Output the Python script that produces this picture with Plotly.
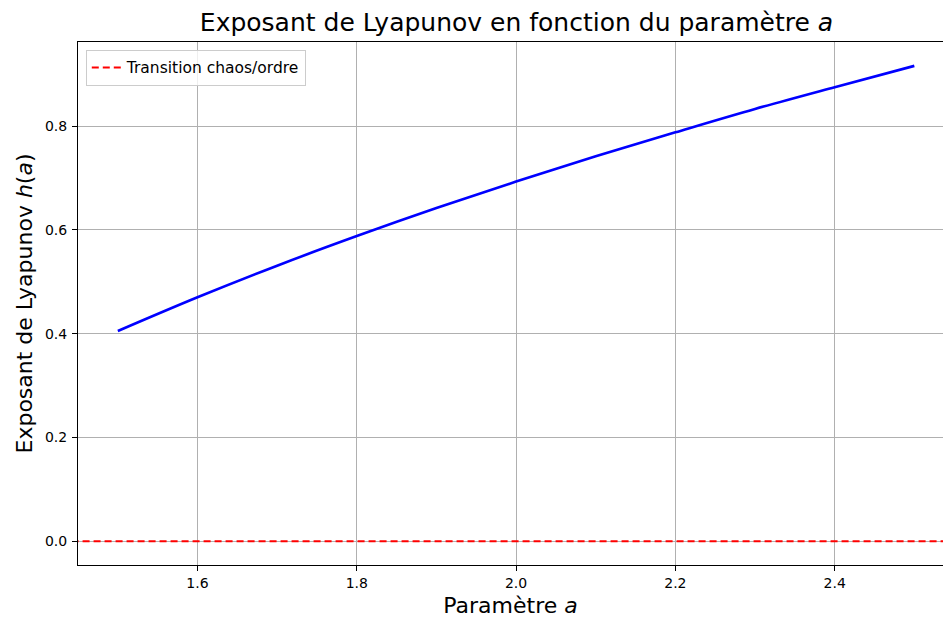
import plotly.graph_objects as go

# Data
a_values = [1.5, 1.6, 1.7, 1.8, 1.9, 2.0, 2.1, 2.2, 2.3, 2.4, 2.5]
h_values = [0.405, 0.470, 0.531, 0.588, 0.642, 0.693, 0.742, 0.788, 0.833, 0.875, 0.916]
transition_x = [1.0, 3.0]
transition_y = [0.0, 0.0]
x_ticks = [1.6, 1.8, 2.0, 2.2, 2.4]
y_ticks = [0.0, 0.2, 0.4, 0.6, 0.8]

FONT = "DejaVu Sans"

fig = go.Figure()
fig.add_trace(go.Scatter(
    x=a_values, y=h_values, mode="lines", line=dict(color="#0000ff", width=2.6, shape="spline"),
    showlegend=False, hoverinfo="skip"))
fig.add_trace(go.Scatter(
    x=transition_x, y=transition_y, mode="lines", name="Transition chaos/ordre",
    line=dict(color="#ff0000", width=2, dash="7px,4px")))

fig.update_layout(
    width=944, height=618,
    margin=dict(l=78, r=1, t=42, b=53),
    paper_bgcolor="white", plot_bgcolor="white",
    font=dict(family=FONT, color="#000000", size=14),
    title=dict(text="Exposant de Lyapunov en fonction du paramètre <i>a</i>",
               font=dict(family=FONT, size=25, color="#000000"),
               x=(78 + 955) / 2 / 944, xanchor="center", y=1 - 22 / 618, yanchor="middle",
               xref="container"),
    legend=dict(x=0.009, y=0.985, xanchor="left", yanchor="top",
                bgcolor="rgba(255,255,255,0.8)", bordercolor="#cccccc", borderwidth=1,
                font=dict(family=FONT, size=15.5, color="#000000"),
                itemwidth=30, tracegroupgap=0),
    showlegend=True,
)
fig.update_xaxes(
    range=[1.45, 1.45 + 865 / 796.5],
    tickvals=x_ticks, ticktext=[f"{v:.1f}" for v in x_ticks],
    showgrid=True, gridcolor="#b0b0b0", gridwidth=0.8,
    showline=True, linecolor="#000000", linewidth=1, mirror=True,
    ticks="outside", ticklen=5, tickwidth=1, tickcolor="#000000",
    tickfont=dict(family=FONT, size=14, color="#000000"),
    zeroline=False,
    title=dict(text="Paramètre <i>a</i>", font=dict(family=FONT, size=22, color="#000000"), standoff=10),
)
fig.update_yaxes(
    range=[-0.0458, 0.962],
    tickvals=y_ticks, ticktext=[f"{v:.1f}" for v in y_ticks],
    showgrid=True, gridcolor="#b0b0b0", gridwidth=0.8,
    showline=True, linecolor="#000000", linewidth=1, mirror=False,
    ticks="outside", ticklen=5, tickwidth=1, tickcolor="#000000",
    tickfont=dict(family=FONT, size=14, color="#000000"),
    ticklabelstandoff=2,
    zeroline=False,
    title=dict(text="Exposant de Lyapunov <i>h</i>(<i>a</i>)", font=dict(family=FONT, size=22, color="#000000"), standoff=6),
)

fig.write_html("out.html")
